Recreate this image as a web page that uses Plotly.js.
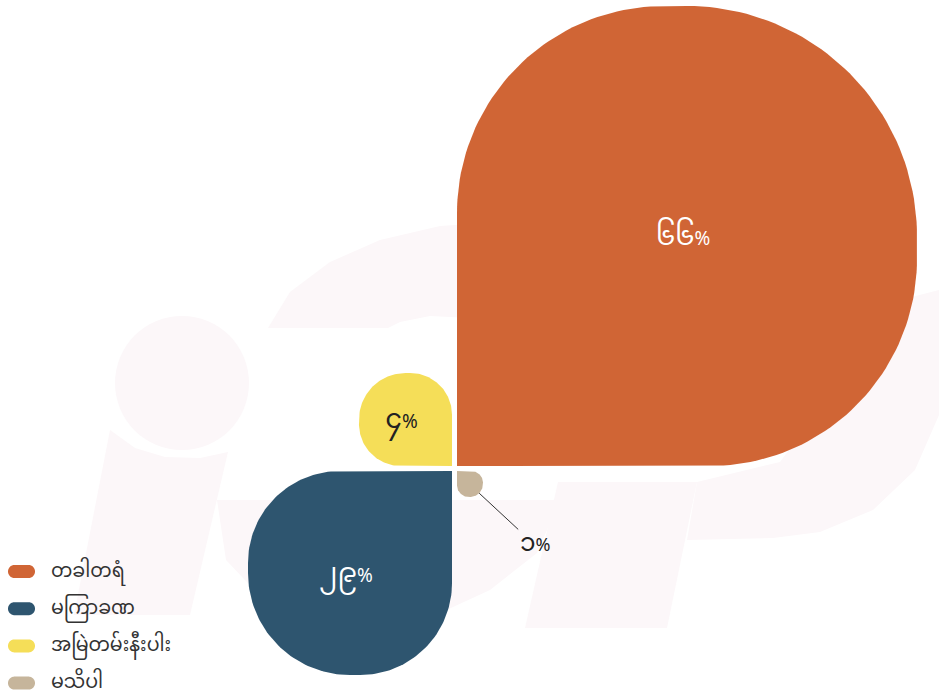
<!DOCTYPE html>
<html>
<head>
<meta charset="utf-8">
<script src="https://cdn.plot.ly/plotly-3.0.1.min.js"></script>
<style>
  html, body { margin: 0; padding: 0; background: #ffffff; }
  #chart { width: 939px; height: 696px; }
</style>
</head>
<body>
<div id="chart"></div>
<script>
// ---- data ----
const categories = ['တခါတရံ', 'မကြာခဏ', 'အမြဲတမ်းနီးပါး', 'မသိပါ'];
const values = [66, 29, 4, 1];
const valueLabels = ['၆၆', '၂၉', '၄', '၁'];
const colors = ['#D06535', '#2E556F', '#F5DE58', '#C6B59B'];
const labelColors = ['#ffffff', '#ffffff', '#222222', '#222222'];
// quadrant of each petal: [x direction, y direction] (y axis runs downward)
const quadrants = [[1, -1], [-1, 1], [-1, -1], [1, 1]];

// ---- layout constants ----
const W = 939, H = 696;
const CX = 454.5, CY = 468.5, GAP = 2.5;
const FONT = 'Noto Sans Myanmar, Padauk, Myanmar Text, Noto Sans, sans-serif';
// petal side scale (piecewise linear, as in the original design)
const sizeDomain = [0, 1, 4, 29, 66];
const sizeRange = [0, 26, 93, 204, 460];
function sideOf(v) {
  for (let i = 1; i < sizeDomain.length; i++) {
    if (v <= sizeDomain[i]) {
      const t = (v - sizeDomain[i - 1]) / (sizeDomain[i] - sizeDomain[i - 1]);
      return sizeRange[i - 1] + t * (sizeRange[i] - sizeRange[i - 1]);
    }
  }
  return sizeRange[sizeRange.length - 1];
}
const FAR = 0.5, ADJ = 0.45;

function arc(pts, cu, cv, r, a0, a1) {
  const n = 48;
  for (let k = 0; k <= n; k++) {
    const a = (a0 + (a1 - a0) * k / n) * Math.PI / 180;
    pts.push([cu + r * Math.cos(a), cv + r * Math.sin(a)]);
  }
}
function petal(s) {
  const rf = FAR * s, ra = ADJ * s;
  const p = [[0, 0]];
  arc(p, s - ra, ra, ra, -90, 0);
  arc(p, s - rf, s - rf, rf, 0, 90);
  arc(p, ra, s - ra, ra, 90, 180);
  p.push([0, 0]);
  return p;
}

// ---- faint background watermark (decoration) ----
const WM = '#fcf7f9';
const shapes = [];
function polyPath(pts) {
  return 'M ' + pts.map(p => p[0] + ' ' + p[1]).join(' L ') + ' Z';
}
shapes.push({ type: 'circle', xref: 'x', yref: 'y', x0: 115, x1: 249, y0: 316, y1: 450,
  fillcolor: WM, line: { width: 0 }, layer: 'below' });
shapes.push({ type: 'path', xref: 'x', yref: 'y', layer: 'below', fillcolor: WM, line: { width: 0 },
  path: polyPath([[110, 430], [135, 448], [165, 457], [200, 458], [228, 452], [190, 615], [74, 615]]) });
shapes.push({ type: 'path', xref: 'x', yref: 'y', layer: 'below', fillcolor: WM, line: { width: 0 },
  path: polyPath([[268, 328], [290, 292], [330, 262], [380, 240], [440, 226], [470, 224], [470, 318], [430, 316], [400, 322], [388, 328]]) });
shapes.push({ type: 'path', xref: 'x', yref: 'y', layer: 'below', fillcolor: WM, line: { width: 0 },
  path: polyPath([[217, 500], [560, 500], [537, 553], [490, 590], [440, 613], [380, 624], [320, 620], [262, 598], [226, 560]]) });
shapes.push({ type: 'path', xref: 'x', yref: 'y', layer: 'below', fillcolor: WM, line: { width: 0 },
  path: polyPath([[558, 482], [697, 482], [667, 628], [525, 628]]) });
shapes.push({ type: 'path', xref: 'x', yref: 'y', layer: 'below', fillcolor: WM, line: { width: 0 },
  path: polyPath([[697, 482], [780, 462], [900, 300], [939, 290], [939, 415], [915, 470], [873, 510], [820, 532], [773, 538], [687, 540]]) });

const traces = [];
const annotations = [];
values.forEach((v, i) => {
  const s = sideOf(v);
  const [sx, sy] = quadrants[i];
  const ox = CX + sx * GAP, oy = CY + sy * GAP;
  const pts = petal(s);
  traces.push({
    type: 'scatter', mode: 'lines', fill: 'toself',
    x: pts.map(p => ox + sx * p[0]),
    y: pts.map(p => oy + sy * p[1]),
    line: { width: 0, color: colors[i] },
    fillcolor: colors[i],
    hoverinfo: 'skip', showlegend: false
  });
  const label = valueLabels[i] + '<span style="font-size:19px">%</span>';
  if (s > 60) {
    traces.push({
      type: 'scatter', mode: 'text',
      x: [ox + sx * s / 2 - 4], y: [oy + sy * s / 2 + 2],
      text: [label],
      textfont: { size: 27, color: labelColors[i], family: FONT },
      hoverinfo: 'skip', showlegend: false
    });
  } else {
    const d = (s - FAR * s) + FAR * s * Math.SQRT1_2;
    annotations.push({
      x: ox + sx * d, y: oy + sy * d, xref: 'x', yref: 'y',
      text: valueLabels[i] + '<span style="font-size:18px">%</span>',
      showarrow: true, arrowhead: 0, arrowwidth: 1, arrowcolor: '#333333',
      ax: 56, ay: 52, standoff: 0,
      font: { size: 25, color: labelColors[i], family: FONT }
    });
  }
});

// custom pill legend
const LEG_X = 8, LEG_Y0 = 571.5, LEG_DY = 37.2, PILL_W = 27, PILL_H = 13;
categories.forEach((c, i) => {
  const y = LEG_Y0 + i * LEG_DY;
  const r = PILL_H / 2;
  const pts = [];
  arc(pts, LEG_X + PILL_W - r, y, r, -90, 90);
  arc(pts, LEG_X + r, y, r, 90, 270);
  shapes.push({
    type: 'path', xref: 'x', yref: 'y',
    path: polyPath(pts.map(p => [p[0].toFixed(2), p[1].toFixed(2)])),
    fillcolor: colors[i], line: { width: 0 }
  });
  annotations.push({
    x: LEG_X + PILL_W + 14, y: y + 0.5, xref: 'x', yref: 'y', xanchor: 'left', yanchor: 'middle',
    text: c, showarrow: false,
    font: { size: 19, color: '#333333', family: FONT }
  });
});

const layout = {
  width: W, height: H,
  margin: { l: 0, r: 0, t: 0, b: 0 },
  paper_bgcolor: '#ffffff', plot_bgcolor: '#ffffff',
  xaxis: { range: [0, W], visible: false, fixedrange: true },
  yaxis: { range: [H, 0], visible: false, fixedrange: true },
  shapes: shapes,
  annotations: annotations,
  showlegend: false
};

Plotly.newPlot('chart', traces, layout, { displayModeBar: false, staticPlot: true });
</script>
</body>
</html>
